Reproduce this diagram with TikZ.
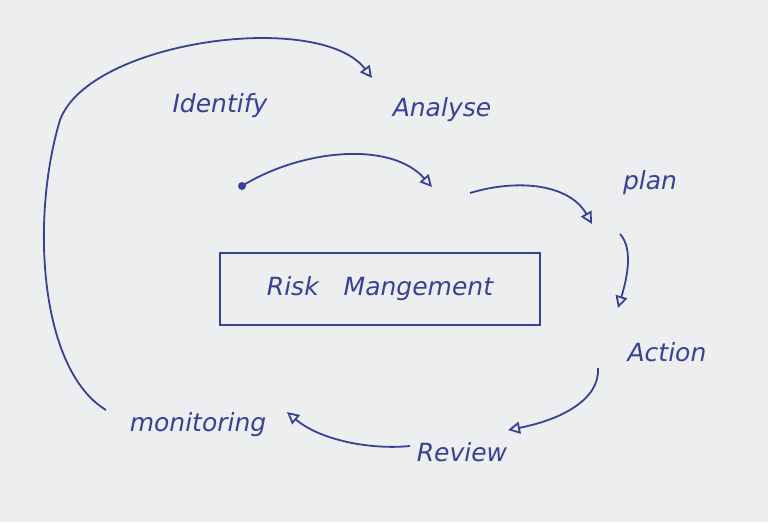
\documentclass[tikz,border=0pt]{standalone}
\usepackage{fontspec}
\setmainfont{DejaVu Sans}
\usetikzlibrary{arrows.meta}
\definecolor{ink}{RGB}{55,65,150}
\definecolor{paper}{RGB}{236,238,240}
\begin{document}
\begin{tikzpicture}[x=1pt,y=-1pt,
  lbl/.style={text=ink,font=\fontsize{25}{27}\selectfont\itshape},
  con/.style={draw=ink,line width=1.8pt,-{Triangle[open,length=12pt,width=12pt]}}]
\fill[paper] (0,0) rectangle (768,522);
\useasboundingbox (0,0) rectangle (768,522);
\node[lbl] (identify) at (220,106) {Identify};
\node[lbl] (analyse) at (442,110) {Analyse};
\node[lbl] (plan) at (650,183) {plan};
\node[lbl] (action) at (667,352) {Action};
\node[lbl] (review) at (462,452) {Review};
\node[lbl] (monitoring) at (198,425) {monitoring};
\node[draw=ink,line width=1.8pt,minimum width=320pt,minimum height=72pt,lbl] (risk) at (380,289) {Risk\quad Mangement};
\coordinate (dot) at (242,186);
\coordinate (a1) at (432,187);
\coordinate (b0) at (470,193);
\coordinate (b1) at (592,224);
\coordinate (c0) at (620,234);
\coordinate (c1) at (618,308);
\coordinate (d0) at (598,368);
\coordinate (d1) at (508,430);
\coordinate (e0) at (410,446);
\coordinate (e1) at (287,412);
\coordinate (f0) at (106,410);
\coordinate (f1) at (372,78);
\fill[ink] (dot) circle (4pt);
\draw[con] (dot) .. controls (300,150) and (390,140) .. (a1);
\draw[con] (b0) .. controls (520,178) and (570,185) .. (b1);
\draw[con] (c0) .. controls (635,250) and (625,285) .. (c1);
\draw[con] (d0) .. controls (600,400) and (560,420) .. (d1);
\draw[con] (e0) .. controls (370,450) and (320,440) .. (e1);
\draw[con] (f0) .. controls (40,370) and (30,220) .. (60,120) .. controls (90,40) and (320,10) .. (f1);
\end{tikzpicture}
\end{document}
